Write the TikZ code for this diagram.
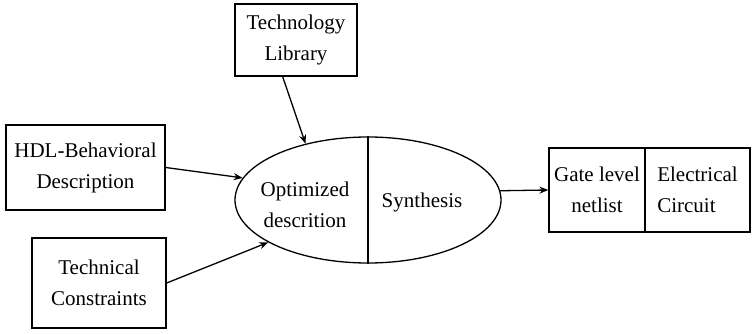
\documentclass[tikz,border=0pt]{standalone}
\usepackage{fontspec}
\setmainfont{Liberation Serif}
\usetikzlibrary{arrows,arrows.meta,positioning,shapes.geometric}

\begin{document}
\begin{tikzpicture}[->, >={Stealth[length=9pt,width=7pt]}, line width=1.3pt, x=1pt, y=-1pt]
	\tikzstyle{every node}=[font=\rmfamily\fontsize{21}{31}\selectfont, text=black]
	\tikzstyle{block}=[draw=black, rectangle, align=center, inner sep=0pt]
	\useasboundingbox (0,0) rectangle (752,334);
		\node[block, minimum width=122pt, minimum height=72pt] (lib) at (296,40) {Technology\\Library};
		\node[block, minimum width=159pt, minimum height=85pt] (hdl) at (85.5,167.5) {HDL-Behavioral\\Description};
		\node[block, minimum width=134pt, minimum height=90pt] (tc) at (99,283) {Technical\\Constraints};
		\node[ellipse, draw=black, minimum width=266pt, minimum height=126pt, inner sep=0pt] (synth) at (368,200) {};
		\node[align=center] (opt) at (305,205) {Optimized\\descrition};
		\node (syn) at (422,202) {Synthesis};
		\node[block, minimum width=96pt, minimum height=84pt] (gate) at (597,190) {Gate level\\netlist};
		\node[block, align=left, minimum width=105pt, minimum height=84pt] (elec) [right=-1.3pt of gate] {Electrical\\Circuit};
		\draw[-] (synth.north) -- (synth.south);
		\path
			(lib.250) edge (synth.138.5)
			(hdl.east) edge (synth.170)
			(tc.east) edge (synth.203)
			(synth.4) edge (gate.west);
\end{tikzpicture}
\end{document}
